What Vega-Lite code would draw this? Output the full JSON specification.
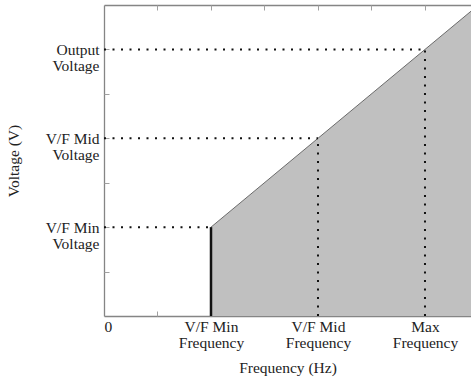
{
  "$schema": "https://vega.github.io/schema/vega-lite/v6.json",
  "width": 367,
  "height": 311,
  "autosize": {"type": "none"},
  "padding": {"left": 104, "top": 5, "right": 0, "bottom": 61},
  "config": {
    "view": {"stroke": null},
    "font": "Liberation Serif",
    "axis": {
      "domainColor": "#858585",
      "domainWidth": 1.3,
      "tickColor": "#a0a0a0",
      "tickWidth": 1,
      "grid": false,
      "labelFont": "Liberation Serif",
      "labelFontSize": 15.5,
      "labelColor": "#222222",
      "titleFont": "Liberation Serif",
      "titleFontSize": 15.5,
      "titleFontWeight": "normal",
      "titleColor": "#222222",
      "labelLineHeight": 16.5
    }
  },
  "datasets": {
    "curve": [{"f": 2, "v": 2}, {"f": 7, "v": 7}],
    "minline": [{"f": 2, "v0": 0, "v": 2}],
    "hguide": [{"f0": 0, "f": 2, "v": 2}, {"f0": 0, "f": 4, "v": 4}, {"f0": 0, "f": 6, "v": 6}],
    "vguide": [{"f": 4, "v0": 0, "v": 4}, {"f": 6, "v0": 0, "v": 6}]
  },
  "layer": [
    {
      "data": {"name": "curve"},
      "mark": {"type": "area", "color": "#c0c0c0", "clip": true},
      "encoding": {
        "x": {
          "field": "f", "type": "quantitative",
          "scale": {"domain": [0, 6.86], "nice": false, "zero": false},
          "axis": {
            "orient": "bottom",
            "values": [0, 2, 4, 6],
            "ticks": false,
            "labelPadding": 3,
            "labelBaseline": "top",
            "labelExpr": "datum.value == 0 ? '0' : datum.value == 2 ? ['V/F Min', 'Frequency'] : datum.value == 4 ? ['V/F Mid', 'Frequency'] : datum.value == 6 ? ['Max', 'Frequency'] : ''",
            "title": "Frequency (Hz)",
            "titlePadding": 9
          }
        },
        "y": {
          "field": "v", "type": "quantitative",
          "scale": {"domain": [0, 7], "nice": false},
          "axis": {
            "orient": "left",
            "values": [2, 4, 6],
            "ticks": false,
            "labelPadding": 5,
            "labelAlign": "right",
            "labelBaseline": "middle",
            "labelExpr": "datum.value == 2 ? ['V/F Min', 'Voltage'] : datum.value == 4 ? ['V/F Mid', 'Voltage'] : datum.value == 6 ? ['Output', 'Voltage'] : ''",
            "title": "Voltage (V)",
            "titlePadding": 24
          }
        }
      }
    },
    {
      "data": {"name": "curve"},
      "mark": {"type": "line", "color": "#6a6a6a", "strokeWidth": 1, "clip": true},
      "encoding": {
        "x": {
          "field": "f", "type": "quantitative",
          "axis": {
            "orient": "top",
            "values": [1, 2, 3, 4, 5, 6],
            "ticks": false,
            "labels": false,
            "title": null
          }
        },
        "y": {
          "field": "v", "type": "quantitative",
          "axis": {
            "orient": "left",
            "values": [1, 2, 3, 4, 5, 6],
            "domain": false,
            "labels": false,
            "ticks": true,
            "tickSize": 5,
            "offset": -5,
            "title": null
          }
        }
      }
    },
    {
      "data": {"name": "minline"},
      "mark": {"type": "rule", "color": "#111111", "strokeWidth": 2.5},
      "encoding": {
        "x": {
          "field": "f", "type": "quantitative",
          "axis": {
            "orient": "top",
            "values": [1, 2, 3, 4, 5, 6],
            "domain": false,
            "labels": false,
            "ticks": true,
            "tickSize": 5,
            "offset": -5,
            "title": null
          }
        },
        "y": {"field": "v0", "type": "quantitative", "axis": null},
        "y2": {"field": "v"}
      }
    },
    {
      "data": {"name": "hguide"},
      "mark": {"type": "rule", "color": "#111111", "strokeWidth": 2, "strokeDash": [2, 6.5]},
      "encoding": {
        "x": {
          "field": "f0", "type": "quantitative",
          "axis": {
            "orient": "bottom",
            "values": [1],
            "domain": false,
            "labels": false,
            "ticks": true,
            "tickSize": 5,
            "offset": -5,
            "title": null
          }
        },
        "x2": {"field": "f"},
        "y": {"field": "v", "type": "quantitative", "axis": null}
      }
    },
    {
      "data": {"name": "vguide"},
      "mark": {"type": "rule", "color": "#111111", "strokeWidth": 2, "strokeDash": [2, 6.5]},
      "encoding": {
        "x": {"field": "f", "type": "quantitative", "axis": null},
        "y": {"field": "v0", "type": "quantitative", "axis": null},
        "y2": {"field": "v"}
      }
    }
  ],
  "resolve": {"axis": {"x": "independent", "y": "independent"}}
}
